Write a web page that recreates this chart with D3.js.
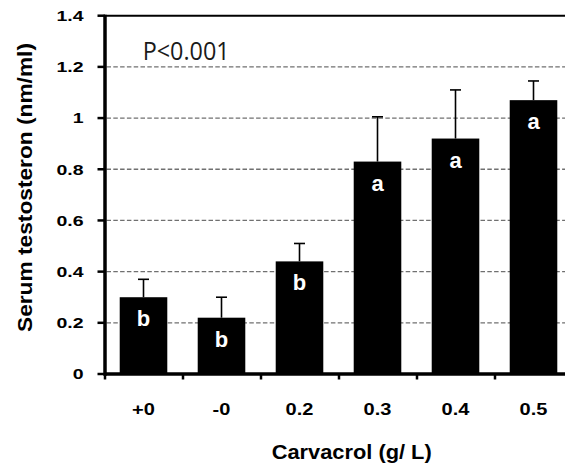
<!DOCTYPE html>
<html>
<head>
<meta charset="utf-8">
<script src="https://cdn.jsdelivr.net/npm/d3@7"></script>
<style>
  html, body { margin: 0; padding: 0; background: #fff; }
  svg { display: block; }
</style>
</head>
<body>
<svg id="chart" width="565" height="463"></svg>
<script>
const categories = ["+0", "-0", "0.2", "0.3", "0.4", "0.5"];
const means = [0.30, 0.22, 0.44, 0.83, 0.92, 1.07];
const errors = [0.07, 0.08, 0.07, 0.175, 0.19, 0.075];
const letters = ["b", "b", "b", "a", "a", "a"];
const yTicks = [0, 0.2, 0.4, 0.6, 0.8, 1, 1.2, 1.4];
const yTickLabels = ["0", "0.2", "0.4", "0.6", "0.8", "1", "1.2", "1.4"];
const yTitle = "Serum testosteron (nm/ml)";
const xTitle = "Carvacrol (g/ L)";
const pText = "P<0.001";

const svg = d3.select("#chart");
const pLeft = 104.5, pRight = 572.5, pTop = 15.7, pBottom = 374;

const x = d3.scaleBand().domain(categories).range([pLeft, pRight])
  .paddingInner(0.39).paddingOuter(0.195);
const y = d3.scaleLinear().domain([0, 1.4]).range([pBottom, pTop]);
const step = x.step(), bw = x.bandwidth();
const gap = (step - bw) / 2;

// gridlines
svg.append("g").selectAll("line").data(yTicks.filter(v => v > 0 && v < 1.4))
  .join("line")
  .attr("x1", pLeft + 2).attr("x2", pRight)
  .attr("y1", d => y(d)).attr("y2", d => y(d))
  .attr("stroke", "#707070").attr("stroke-width", 1.3)
  .attr("stroke-dasharray", "4.5,2.3");

// top border
svg.append("line").attr("x1", pLeft).attr("x2", pRight)
  .attr("y1", y(1.4)).attr("y2", y(1.4))
  .attr("stroke", "#000").attr("stroke-width", 2);

// bars
svg.append("g").selectAll("rect").data(categories).join("rect")
  .attr("x", d => x(d)).attr("width", bw)
  .attr("y", (d, i) => y(means[i]))
  .attr("height", (d, i) => y(0) - y(means[i]))
  .attr("fill", "#000");

// error bars
const eb = svg.append("g").attr("stroke", "#000").attr("stroke-width", 1.6);
categories.forEach((c, i) => {
  const cx = x(c) + bw / 2;
  eb.append("line").attr("x1", cx).attr("x2", cx)
    .attr("y1", y(means[i])).attr("y2", y(means[i] + errors[i]));
  eb.append("line").attr("x1", cx - 5.5).attr("x2", cx + 5.5)
    .attr("y1", y(means[i] + errors[i])).attr("y2", y(means[i] + errors[i]));
});

// letters
svg.append("g").selectAll("text").data(categories).join("text")
  .attr("x", d => x(d) + bw / 2)
  .attr("y", (d, i) => y(means[i]) + 29)
  .attr("text-anchor", "middle")
  .attr("font-family", "'Liberation Sans', Arial, sans-serif")
  .attr("font-weight", "bold").attr("font-size", 22)
  .attr("fill", "#fff")
  .text((d, i) => letters[i]);

// y axis line
svg.append("line").attr("x1", 105).attr("x2", 105)
  .attr("y1", pTop - 1).attr("y2", pBottom + 1.7)
  .attr("stroke", "#000").attr("stroke-width", 3.5);
// x axis line
svg.append("line").attr("x1", pLeft).attr("x2", pRight)
  .attr("y1", pBottom).attr("y2", pBottom)
  .attr("stroke", "#000").attr("stroke-width", 3.3);

// y ticks
svg.append("g").selectAll("line").data(yTicks).join("line")
  .attr("x1", 97.5).attr("x2", 105)
  .attr("y1", d => y(d)).attr("y2", d => y(d))
  .attr("stroke", "#000").attr("stroke-width", 2.5);

// y tick labels
svg.append("g").selectAll("g").data(yTicks).join("g")
  .attr("transform", d => `translate(83.5,${y(d)}) scale(1.3,1)`)
  .append("text")
  .attr("text-anchor", "end").attr("dy", "0.36em")
  .attr("font-family", "'Liberation Sans', Arial, sans-serif")
  .attr("font-weight", "bold").attr("font-size", 15)
  .attr("fill", "#000")
  .text((d, i) => yTickLabels[i]);

// x ticks (category boundaries)
const bounds = categories.map(c => x(c) - gap);
svg.append("g").selectAll("line").data(bounds).join("line")
  .attr("x1", d => d + 0.5).attr("x2", d => d + 0.5)
  .attr("y1", pBottom).attr("y2", pBottom + 5.5)
  .attr("stroke", "#000").attr("stroke-width", 2.5);

// x tick labels
svg.append("g").selectAll("g").data(categories).join("g")
  .attr("transform", d => `translate(${x(d) + bw / 2},414.5) scale(1.25,1)`)
  .append("text")
  .attr("text-anchor", "middle")
  .attr("font-family", "'Liberation Sans', Arial, sans-serif")
  .attr("font-weight", "bold").attr("font-size", 16)
  .attr("fill", "#000")
  .text(d => d);

// y title
svg.append("text")
  .attr("transform", "translate(31.5,187.5) rotate(-90)")
  .attr("text-anchor", "middle")
  .attr("font-family", "'Liberation Sans', Arial, sans-serif")
  .attr("font-weight", "bold").attr("font-size", 20)
  .attr("textLength", 289).attr("lengthAdjust", "spacingAndGlyphs")
  .text(yTitle);

// x title
svg.append("text")
  .attr("x", 351.7).attr("y", 459)
  .attr("text-anchor", "middle")
  .attr("font-family", "'Liberation Sans', Arial, sans-serif")
  .attr("font-weight", "bold").attr("font-size", 21)
  .attr("textLength", 160).attr("lengthAdjust", "spacingAndGlyphs")
  .text(xTitle);

// P value
svg.append("text")
  .attr("x", 142.7).attr("y", 60)
  .attr("font-family", "'Open Sans', sans-serif")
  .attr("font-size", 25).attr("fill", "#1a1a1a")
  .attr("textLength", 87).attr("lengthAdjust", "spacingAndGlyphs")
  .text(pText);
</script>
</body>
</html>
